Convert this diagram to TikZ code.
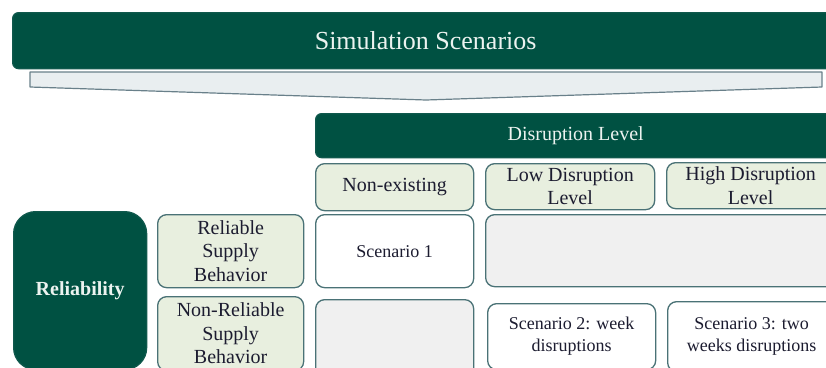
\documentclass[tikz,border=0pt]{standalone}
\usepackage{fontspec}
\setmainfont{Liberation Serif}
\definecolor{dgreen}{RGB}{0,81,66}
\definecolor{lgreen}{RGB}{232,239,223}
\definecolor{bord}{RGB}{74,114,118}
\definecolor{gfill}{RGB}{240,240,240}
\definecolor{chev}{RGB}{233,238,240}
\definecolor{chevb}{RGB}{105,128,138}
\definecolor{txt}{RGB}{28,28,48}
\definecolor{wtxt}{RGB}{236,243,240}
\tikzset{
  box/.style={draw=bord, line width=1.3pt, rounded corners=9pt, inner sep=0pt, align=center, text=txt, anchor=north west},
  darkbox/.style={box, draw=dgreen!80!bord, fill=dgreen, text=wtxt},
  hdr/.style={box, fill=lgreen, font=\fontsize{20}{23.5}\selectfont},
  cell/.style={box, fill=white, font=\fontsize{18}{22}\selectfont},
  empty/.style={box, fill=gfill},
}
\begin{document}
\begin{tikzpicture}[x=1pt,y=-1pt]
\useasboundingbox (0,0) rectangle (826,367);
\clip (0,0) rectangle (826,367);
\fill[white] (0,0) rectangle (826,367);
% title banner
\node[darkbox, rounded corners=6pt, minimum width=826pt, minimum height=56pt, font=\fontsize{26}{30}\selectfont] (title) at (12,12) {Simulation Scenarios};
% chevron
\draw[chevb, fill=chev, line width=1.2pt, line join=round] (30,72) -- (822,72) -- (822,87) -- (426,100) -- (30,87) -- cycle;
% disruption level bar
\node[darkbox, rounded corners=6pt, minimum width=520pt, minimum height=44pt, font=\fontsize{20}{24}\selectfont] (dis) at (315,113) {Disruption Level};
% column headers
\node[hdr, minimum width=158pt, minimum height=47pt] (ne) at (315,163) {Non-existing};
\node[hdr, minimum width=169pt, minimum height=46pt] (low) at (485,163) {Low Disruption\\Level};
\node[hdr, minimum width=168pt, minimum height=46pt] (high) at (666,162) {High Disruption\\Level};
% reliability
\node[darkbox, rounded corners=22pt, minimum width=133pt, minimum height=158pt, font=\bfseries\fontsize{20}{24}\selectfont] (rel) at (13,211) {Reliability};
\node[hdr, minimum width=146pt, minimum height=73pt] (rsb) at (157,214) {Reliable\\Supply\\Behavior};
\node[hdr, minimum width=146pt, minimum height=74pt] (nrsb) at (157,296) {Non-Reliable\\Supply\\Behavior};
% cells
\node[cell, minimum width=158pt, minimum height=73pt] (s1) at (315,214) {Scenario 1};
\node[empty, minimum width=355pt, minimum height=72pt] (gbig) at (485,214) {};
\node[empty, minimum width=158pt, minimum height=80pt] (gbl) at (315,299) {};
\node[cell, minimum width=168pt, minimum height=66pt] (s2) at (487,303) {Scenario 2: week\\disruptions};
\node[cell, minimum width=168pt, minimum height=70pt] (s3) at (667,301) {Scenario 3: two\\weeks disruptions};
\end{tikzpicture}
\end{document}
